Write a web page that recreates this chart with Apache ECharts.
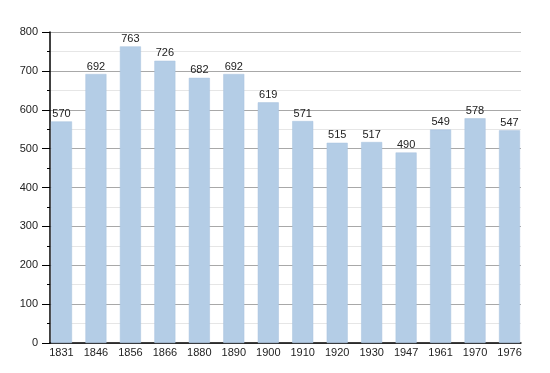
<!DOCTYPE html>
<html><head><meta charset="utf-8">
<script src="https://cdn.jsdelivr.net/npm/echarts@6/dist/echarts.min.js"></script>
<style>html,body{margin:0;padding:0;background:#fff}#c{width:550px;height:373px}</style>
</head><body><div id="c"></div>
<script>
var years = ['1831','1846','1856','1866','1880','1890','1900','1910','1920','1930','1947','1961','1970','1976'];
var population = [570, 692, 763, 726, 682, 692, 619, 571, 515, 517, 490, 549, 578, 547];
var yTicks = [0, 100, 200, 300, 400, 500, 600, 700, 800];

// each category occupies 3 x-units; bar i sits at 3*i+1
var STEP = 3, OFF = 1;
var chart = echarts.init(document.getElementById('c'), null, {renderer: 'canvas'});
var font = 'Liberation Sans, Arial, sans-serif';
chart.setOption({
  animation: false,
  grid: {left: 50, right: 29, top: 32, bottom: 30, containLabel: false},
  xAxis: {
    type: 'value', min: 0, max: STEP * (years.length - 1) + OFF + 1, interval: 1,
    axisLine: {show: true, onZero: false, lineStyle: {color: '#000', width: 1.5}},
    axisTick: {show: false},
    splitLine: {show: false},
    axisLabel: {
      margin: 4, color: '#222', fontSize: 11, fontFamily: font,
      showMinLabel: true, showMaxLabel: true, hideOverlap: false,
      formatter: function (v) {
        var r = Math.round(v) - OFF;
        if (r < 0 || r % STEP !== 0) return '';
        var k = r / STEP;
        return k < years.length ? years[k] : '';
      }
    }
  },
  yAxis: {
    type: 'value', min: yTicks[0], max: yTicks[yTicks.length - 1], interval: 100,
    axisLine: {show: true, onZero: false, lineStyle: {color: '#000', width: 1.5}},
    axisTick: {show: true, length: 8, lineStyle: {color: '#000'}},
    minorTick: {show: true, splitNumber: 2, length: 3, lineStyle: {color: '#000'}},
    splitLine: {show: true, lineStyle: {color: '#a8a8a8', width: 1}},
    minorSplitLine: {show: true, lineStyle: {color: '#e6e6e6', width: 1}},
    axisLabel: {margin: 12, color: '#222', fontSize: 11, fontFamily: font}
  },
  series: [{
    type: 'bar',
    barWidth: 21,
    data: population.map(function (v, i) { return [STEP * i + OFF, v]; }),
    itemStyle: {color: '#b4cde6', borderColor: '#a9c3df', borderWidth: 0.5},
    label: {show: true, position: 'top', distance: 2, color: '#222', fontSize: 11, fontFamily: font,
      formatter: function (p) { return p.value[1]; }}
  }]
});
</script></body></html>
